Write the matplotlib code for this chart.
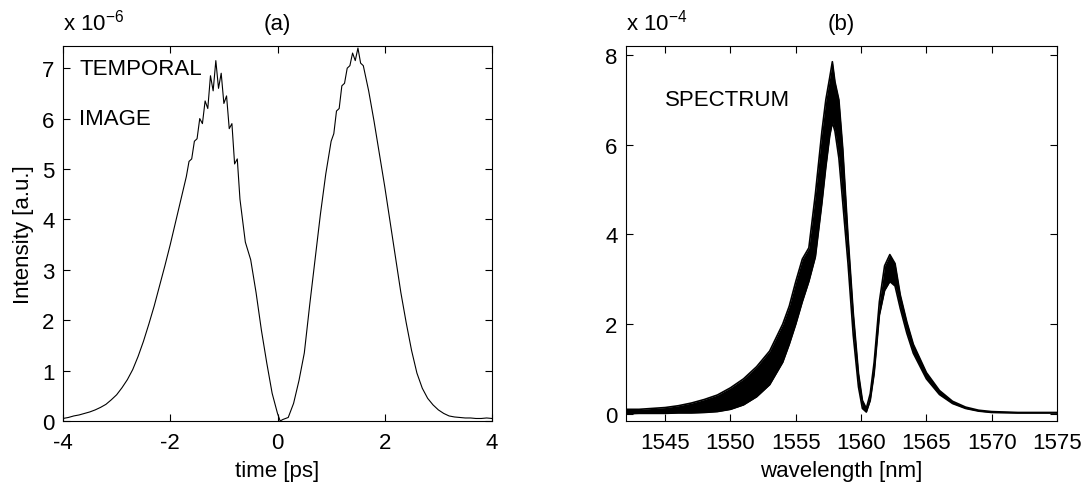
import numpy as np
import matplotlib.pyplot as plt

plt.rcParams['font.family'] = ['Liberation Sans', 'DejaVu Sans']
plt.rcParams['axes.unicode_minus'] = False
plt.rcParams['font.size'] = 16

# (a) temporal image, intensity in units of 1e-6
time_ps = [-4.0, -3.9, -3.8, -3.7, -3.6, -3.5, -3.4, -3.3, -3.2, -3.1,
           -3.0, -2.9, -2.8, -2.7, -2.6, -2.5, -2.4, -2.3, -2.2, -2.1,
           -2.0, -1.9, -1.8, -1.7, -1.65, -1.6, -1.55, -1.5, -1.45, -1.4,
           -1.35, -1.3, -1.25, -1.2, -1.15, -1.1, -1.05, -1.0, -0.95, -0.9,
           -0.85, -0.8, -0.75, -0.7, -0.6, -0.5, -0.4, -0.3, -0.2, -0.1,
           0.0, 0.05, 0.1, 0.2, 0.3, 0.4, 0.5, 0.6, 0.7, 0.8,
           0.9, 1.0, 1.05, 1.1, 1.15, 1.2, 1.25, 1.3, 1.35, 1.4,
           1.45, 1.5, 1.55, 1.6, 1.65, 1.7, 1.8, 1.9, 2.0, 2.1,
           2.2, 2.3, 2.4, 2.5, 2.6, 2.7, 2.8, 2.9, 3.0, 3.1,
           3.2, 3.3, 3.4, 3.5, 3.6, 3.7, 3.8, 3.9, 4.0]
intensity = [0.05, 0.07, 0.10, 0.12, 0.15, 0.18, 0.22, 0.27, 0.33, 0.42,
             0.52, 0.66, 0.82, 1.02, 1.28, 1.58, 1.92, 2.28, 2.68, 3.08,
             3.50, 3.95, 4.40, 4.85, 5.15, 5.20, 5.55, 5.60, 6.00, 5.90,
             6.35, 6.20, 6.85, 6.55, 7.15, 6.60, 6.90, 6.30, 6.45, 5.80,
             5.90, 5.10, 5.20, 4.40, 3.55, 3.20, 2.55, 1.80, 1.15, 0.55,
             0.15, 0.00, 0.03, 0.07, 0.35, 0.80, 1.35, 2.30, 3.20, 4.10,
             4.90, 5.55, 5.70, 6.15, 6.20, 6.65, 6.70, 7.00, 7.05, 7.30,
             7.15, 7.40, 7.10, 7.05, 6.80, 6.55, 5.95, 5.30, 4.65, 3.95,
             3.25, 2.55, 1.95, 1.40, 0.95, 0.65, 0.45, 0.32, 0.22, 0.15,
             0.10, 0.08, 0.07, 0.06, 0.06, 0.05, 0.05, 0.06, 0.05]

# (b) spectrum, envelope of the fringes in units of 1e-4
wavelength_nm = [1542, 1543, 1544, 1545, 1546, 1547, 1548, 1549, 1550, 1551,
                 1552, 1553, 1554, 1554.5, 1555, 1555.5, 1556, 1556.5, 1557, 1557.3,
                 1557.6, 1557.8, 1558.0, 1558.3, 1558.6, 1559.0, 1559.4, 1559.8, 1560.1, 1560.4,
                 1560.7, 1561.0, 1561.4, 1561.8, 1562.2, 1562.6, 1563.0, 1563.5, 1564, 1565,
                 1566, 1567, 1568, 1569, 1570, 1572, 1575]
spec_upper = [0.10, 0.10, 0.12, 0.14, 0.18, 0.24, 0.32, 0.42, 0.58, 0.78,
              1.05, 1.40, 2.00, 2.40, 2.95, 3.45, 3.70, 4.90, 6.30, 7.00,
              7.50, 7.85, 7.40, 7.00, 5.90, 3.95, 2.25, 0.90, 0.30, 0.12,
              0.45, 1.15, 2.50, 3.30, 3.55, 3.35, 2.65, 2.05, 1.55, 0.92,
              0.52, 0.28, 0.15, 0.08, 0.05, 0.03, 0.03]
spec_lower = [0.00, 0.01, 0.01, 0.01, 0.02, 0.02, 0.03, 0.05, 0.10, 0.20,
              0.38, 0.65, 1.15, 1.55, 2.00, 2.50, 2.95, 3.50, 4.70, 5.50,
              6.20, 6.50, 6.30, 5.70, 4.70, 3.35, 1.75, 0.60, 0.12, 0.04,
              0.30, 0.90, 2.20, 2.75, 2.95, 2.85, 2.35, 1.80, 1.35, 0.78,
              0.43, 0.23, 0.12, 0.06, 0.03, 0.02, 0.02]

W, H = 1082, 485
fig = plt.figure(figsize=(W / 100, H / 100), dpi=100)
ax1 = fig.add_axes([63 / W, 63 / H, 429 / W, 375 / H])
ax2 = fig.add_axes([626 / W, 63 / H, 431 / W, 375 / H])

for ax in (ax1, ax2):
    ax.tick_params(direction='in', top=True, right=True, length=5,
                   width=0.8, pad=6, labelsize=16)
    ax.tick_params(axis='x', pad=8)
    for s in ax.spines.values():
        s.set_linewidth(0.8)

ax1.plot(time_ps, intensity, color='k', lw=0.8)
ax1.set_xlim(-4, 4)
ax1.set_ylim(0, 7.44)
ax1.set_xticks([-4, -2, 0, 2, 4])
ax1.set_yticks(range(8))
ax1.set_xlabel('time [ps]', labelpad=5)
ax1.set_ylabel('Intensity [a.u.]', labelpad=6)
ax1.set_title('(a)', fontsize=16, pad=12)
ax1.text(0, 1.03, r'x 10$^{\mathregular{-6}}$', transform=ax1.transAxes,
         va='bottom', ha='left', fontsize=16)
ax1.text(-3.7, 7.0, 'TEMPORAL', va='center', fontsize=16)
ax1.text(-3.7, 6.0, 'IMAGE', va='center', fontsize=16)

ax2.fill_between(wavelength_nm, spec_lower, spec_upper, color='k', lw=0)
ax2.plot(wavelength_nm, spec_upper, color='k', lw=1.2)
ax2.plot(wavelength_nm, spec_lower, color='k', lw=1.2)
ax2.set_xlim(1542, 1575)
ax2.set_ylim(-0.16, 8.2)
ax2.set_xticks([1545, 1550, 1555, 1560, 1565, 1570, 1575])
ax2.set_yticks([0, 2, 4, 6, 8])
ax2.set_xlabel('wavelength [nm]', labelpad=5)
ax2.set_title('(b)', fontsize=16, pad=12)
ax2.text(0, 1.03, r'x 10$^{\mathregular{-4}}$', transform=ax2.transAxes,
         va='bottom', ha='left', fontsize=16)
ax2.text(1545, 7.0, 'SPECTRUM', va='center', fontsize=16)

fig.savefig('out.png', dpi=100)
